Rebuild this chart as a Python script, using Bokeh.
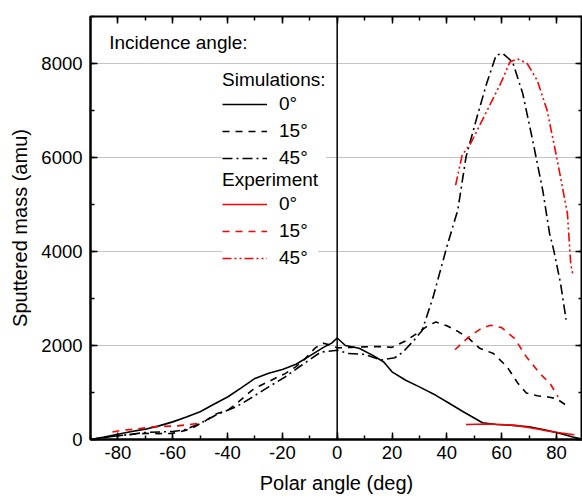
from bokeh.plotting import figure
from bokeh.models import (Range1d, LinearAxis, Span, Label, Legend, LegendItem,
                          SingleIntervalTicker, CustomJSTickFormatter)
from bokeh.embed import file_html
from bokeh.resources import INLINE

# ---- data ----
sim0_x = [-90, -85, -80, -75, -70, -65, -60, -55, -50, -45, -40, -35, -30, -25, -20, -15, -10, -5, -2, 0,
          3, 8, 13, 17, 20, 25, 30, 36, 41, 46, 53, 58, 62, 66, 70, 76, 80, 86, 90]
sim0_y = [0, 50, 110, 170, 220, 290, 375, 480, 590, 750, 905, 1100, 1300, 1410, 1490, 1600, 1780, 1960, 2050, 2160,
          2000, 1940, 1790, 1650, 1440, 1260, 1120, 940, 765, 590, 355, 320, 310, 290, 270, 200, 150, 55, 0]

sim15_x = [-90, -85, -80, -75, -70, -65, -60, -55, -52, -48, -44, -40, -37, -34, -31, -28, -25, -22, -19, -15,
           -12, -8, -5, -2, 0, 5, 10, 15, 20, 25, 30, 33, 36, 40, 44, 48, 52, 57, 62, 66, 69, 73, 77, 80, 83, 85]
sim15_y = [0, 40, 80, 110, 130, 125, 130, 200, 270, 400, 550, 620, 750, 900, 1050, 1150, 1230, 1320, 1400, 1550,
           1700, 1950, 2050, 2000, 1950, 1960, 1970, 1980, 1960, 2100, 2290, 2420, 2500, 2420, 2300, 2150, 1940, 1830,
           1545, 1190, 990, 930, 905, 870, 750, 690]

sim45_x = [-90, -85, -80, -75, -70, -65, -60, -56, -50, -44, -37, -31, -25, -19, -13, -6, 0, 4, 10, 16, 21, 24,
           28, 31, 35, 40, 44, 47, 51, 54.5, 58, 60.5, 64, 67.7, 71.3, 75, 77.5, 79, 81.5, 83.5]
sim45_y = [0, 40, 80, 110, 150, 160, 170, 200, 340, 530, 690, 900, 1120, 1330, 1580, 1860, 1900, 1830, 1810, 1690,
           1740, 1860, 2110, 2320, 3030, 4100, 4880, 6010, 6860, 7570, 8180, 8210, 8030, 7360, 6370, 5300, 4380,
           4030, 3320, 2550]

exp0_x = [47, 55, 60, 65, 72, 79, 86.5]
exp0_y = [320, 330, 320, 300, 235, 160, 100]

exp15_left_x = [-82, -78, -74, -67, -58, -51]
exp15_left_y = [160, 200, 220, 270, 290, 340]
exp15_x = [43, 45.5, 48, 52.5, 56, 60, 64.7, 69, 74, 77.7, 80.6]
exp15_y = [1910, 2050, 2180, 2360, 2430, 2380, 2150, 1760, 1400, 1190, 905]

exp45_x = [43.2, 45.6, 48.7, 52.3, 56, 59.6, 63, 65.7, 69.3, 73, 76.6, 80.3, 84, 85.2, 86]
exp45_y = [5410, 6050, 6300, 6720, 7150, 7570, 8030, 8100, 8000, 7640, 7000, 5940, 4810, 3740, 3500]

x_ticks = [-80, -60, -40, -20, 0, 20, 40, 60, 80]
x_tick_labels = ["-80", "-60", "-40", "-20", "0", "20", "40", "60", "80"]
angle_labels = ["0°", "15°", "45°"]

FONT = "Liberation Sans"

p = figure(width=582, height=498, output_backend="svg", toolbar_location=None,
           x_range=Range1d(-90, 89.5), y_range=Range1d(0, 9000),
           min_border_left=90, min_border_top=16, min_border_bottom=59, min_border_right=0)

p.outline_line_color = "black"
p.outline_line_width = 2
p.xgrid.visible = False
p.ygrid.grid_line_color = "#c4c4c4"
p.ygrid.grid_line_width = 1
p.ygrid.ticker = SingleIntervalTicker(interval=2000)

for ax in (p.xaxis[0], p.yaxis[0]):
    ax.axis_line_width = 2
    ax.major_tick_in = 7
    ax.major_tick_out = 0
    ax.minor_tick_in = 4
    ax.minor_tick_out = 0
    ax.major_tick_line_width = 1.5
    ax.minor_tick_line_width = 1.5
    ax.major_label_text_font = FONT
    ax.major_label_text_font_size = "18.5px"
    ax.major_label_text_color = "black"
    ax.axis_label_text_font = FONT
    ax.axis_label_text_font_size = "20px"
    ax.axis_label_text_font_style = "normal"
    ax.axis_label_text_color = "black"

p.xaxis[0].ticker = SingleIntervalTicker(interval=20, num_minor_ticks=2)
p.xaxis[0].major_label_overrides = {t: l for t, l in zip(x_ticks, x_tick_labels)}
p.xaxis[0].axis_label = "Polar angle (deg)"
p.xaxis[0].axis_label_standoff = 10
p.xaxis[0].major_label_standoff = 6
p.yaxis[0].ticker = SingleIntervalTicker(interval=2000, num_minor_ticks=2)
p.yaxis[0].axis_label = "Sputtered mass (amu)"
p.yaxis[0].axis_label_standoff = 7
p.yaxis[0].major_label_standoff = 8

blank = CustomJSTickFormatter(code="return '';")
top = LinearAxis(ticker=SingleIntervalTicker(interval=20, num_minor_ticks=2),
                 formatter=blank, major_label_standoff=0,
                 axis_line_color=None, major_tick_in=7, major_tick_out=0,
                 minor_tick_in=4, minor_tick_out=0,
                 major_tick_line_width=1.5, minor_tick_line_width=1.5)
right = LinearAxis(ticker=SingleIntervalTicker(interval=2000, num_minor_ticks=2),
                   formatter=blank, major_label_standoff=0,
                   axis_line_color=None, major_tick_in=7, major_tick_out=0,
                   minor_tick_in=4, minor_tick_out=0,
                   major_tick_line_width=1.5, minor_tick_line_width=1.5)
p.add_layout(top, "above")
p.add_layout(right, "right")

p.add_layout(Span(location=0, dimension="height", line_color="black", line_width=1.5))

LW = 1.6
r_s0 = p.line(sim0_x, sim0_y, line_color="black", line_width=LW)
r_s15 = p.line(sim15_x, sim15_y, line_color="black", line_width=LW, line_dash="7 6")
r_s45 = p.line(sim45_x, sim45_y, line_color="black", line_width=LW, line_dash="10 4 2 4")
r_e0 = p.line(exp0_x, exp0_y, line_color="red", line_width=LW)
r_e15 = p.line(exp15_x, exp15_y, line_color="red", line_width=LW, line_dash="7 6")
p.line(exp15_left_x, exp15_left_y, line_color="red", line_width=LW, line_dash="7 6")
r_e45 = p.line(exp45_x, exp45_y, line_color="red", line_width=LW, line_dash="9 3 2 3 2 3")

p.add_layout(Label(x=-83.2, y=8450, text="Incidence angle:", text_font=FONT, text_font_size="19px",
                   text_baseline="middle", text_color="black"))


def make_legend(title, renderers, loc):
    lg = Legend(items=[LegendItem(label=l, renderers=[r]) for l, r in zip(angle_labels, renderers)],
                title=title, location=loc, orientation="vertical",
                glyph_width=45, glyph_height=20, label_height=20, spacing=5, label_standoff=12,
                padding=2, margin=0, border_line_color=None,
                background_fill_color="white", background_fill_alpha=1.0,
                label_text_font=FONT, label_text_font_size="19px", label_text_color="black",
                title_text_font=FONT, title_text_font_size="19px", title_text_font_style="normal",
                title_text_color="black", title_standoff=2)
    return lg


p.add_layout(make_legend("Simulations:", [r_s0, r_s15, r_s45], (132, 270)))
p.add_layout(make_legend("Experiment", [r_e0, r_e15, r_e45], (132, 170)))

open("out.html", "w").write(file_html(p, INLINE))
